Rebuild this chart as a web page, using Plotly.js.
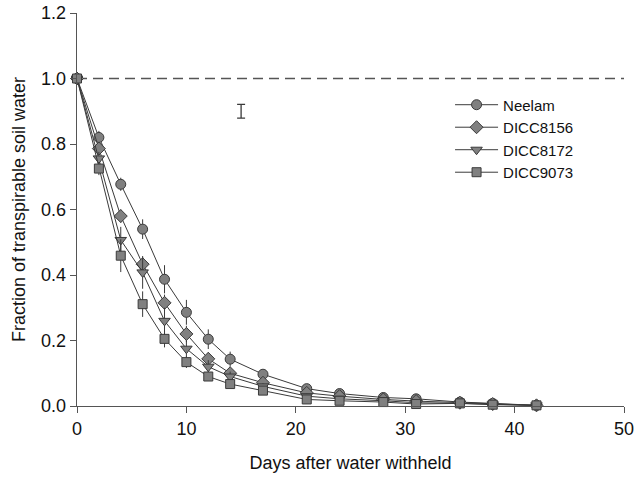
<!DOCTYPE html>
<html>
<head>
<meta charset="utf-8">
<script src="https://cdn.plot.ly/plotly-3.0.1.min.js"></script>
<style>html,body{margin:0;padding:0;background:#fff;}#chart{width:638px;height:479px;}</style>
</head>
<body>
<div id="chart"></div>
<script>
const days = [0, 2, 4, 6, 8, 10, 12, 14, 17, 21, 24, 28, 31, 35, 38, 42];
const seriesNames = ["Neelam", "DICC8156", "DICC8172", "DICC9073"];
const neelam   = [1.0, 0.82, 0.677, 0.54, 0.387, 0.286, 0.204, 0.143, 0.097, 0.053, 0.038, 0.026, 0.022, 0.012, 0.008, 0.002];
const dicc8156 = [1.0, 0.786, 0.58, 0.433, 0.315, 0.22, 0.144, 0.10, 0.071, 0.040, 0.030, 0.020, 0.015, 0.010, 0.006, 0.002];
const dicc8172 = [1.0, 0.756, 0.507, 0.408, 0.26, 0.175, 0.12, 0.09, 0.06, 0.030, 0.022, 0.016, 0.010, 0.008, 0.005, 0.002];
const dicc9073 = [1.0, 0.725, 0.459, 0.311, 0.205, 0.134, 0.09, 0.067, 0.047, 0.020, 0.016, 0.012, 0.006, 0.008, 0.004, 0.002];
const errNeelam   = [0, 0.02, 0.02, 0.03, 0.043, 0.038, 0.03, 0.023, 0.01, 0.008, 0.006, 0.005, 0.005, 0.004, 0.004, 0];
const err8156     = [0, 0.015, 0.02, 0.02, 0.025, 0.025, 0.02, 0.015, 0.01, 0.008, 0.006, 0.005, 0.004, 0.004, 0.003, 0];
const err8172     = [0, 0.02, 0.04, 0.05, 0.04, 0.025, 0.02, 0.015, 0.01, 0.008, 0.006, 0.005, 0.004, 0.004, 0.003, 0];
const err9073     = [0, 0.02, 0.05, 0.039, 0.026, 0.018, 0.012, 0.01, 0.008, 0.006, 0.005, 0.004, 0.004, 0.003, 0.003, 0];
const symbols = ["circle", "diamond", "triangle-down", "square"];
const sizes = [10, 10, 10, 9];
const lsdX = [15];
const lsdY = [0.9];
const lsdErr = [0.021];
const refLineY = 1.0;

const values = [neelam, dicc8156, dicc8172, dicc9073];
const errs = [errNeelam, err8156, err8172, err9073];
const font = "Arial, 'Liberation Sans', sans-serif";

const traces = values.map((v, i) => ({
  x: days, y: v, name: seriesNames[i], type: "scatter", mode: "lines+markers",
  cliponaxis: false,
  line: {color: "#3a3a3a", width: 1},
  marker: {symbol: symbols[i], size: sizes[i], color: "#808080", line: {color: "#3a3a3a", width: 1}},
  error_y: {type: "data", array: errs[i], visible: true, color: "#3a3a3a", thickness: 1, width: 0}
}));
traces.push({
  x: lsdX, y: lsdY, type: "scatter", mode: "markers", showlegend: false, hoverinfo: "skip",
  marker: {size: 1, opacity: 0},
  error_y: {type: "data", array: lsdErr, visible: true, color: "#3a3a3a", thickness: 1.3, width: 4}
});

const layout = {
  width: 638, height: 479,
  margin: {l: 77, r: 14, t: 13, b: 73},
  paper_bgcolor: "#fff", plot_bgcolor: "#fff",
  font: {family: font, size: 18, color: "#111"},
  showlegend: true,
  legend: {x: 0.682, y: 0.808, xanchor: "left", yanchor: "top", bgcolor: "rgba(0,0,0,0)",
           itemwidth: 43,
           font: {family: font, size: 15, color: "#111"}, tracegroupgap: 0},
  xaxis: {
    range: [0, 50], dtick: 10, tick0: 0, showgrid: false, zeroline: false,
    showline: true, linecolor: "#555", linewidth: 1.3, ticks: "outside", ticklen: 6, tickcolor: "#555",
    tickfont: {family: font, size: 18, color: "#111"},
    title: {text: "Days after water withheld", font: {family: font, size: 18, color: "#111"}, standoff: 18},
    automargin: false
  },
  yaxis: {
    range: [0, 1.2], dtick: 0.2, tick0: 0, tickformat: ".1f", showgrid: false, zeroline: false,
    showline: true, linecolor: "#555", linewidth: 1.3, ticks: "outside", ticklen: 6, tickcolor: "#555",
    tickfont: {family: font, size: 18, color: "#111"},
    title: {text: "Fraction of transpirable soil water", font: {family: font, size: 18, color: "#111"}, standoff: 10},
    automargin: false
  },
  shapes: [{type: "line", xref: "x", yref: "y", x0: 0, x1: 50, y0: refLineY, y1: refLineY,
            line: {color: "#555", width: 1.5, dash: "10px,6px"}, layer: "below"}]
};

Plotly.newPlot("chart", traces, layout, {displayModeBar: false, staticPlot: true});
</script>
</body>
</html>
